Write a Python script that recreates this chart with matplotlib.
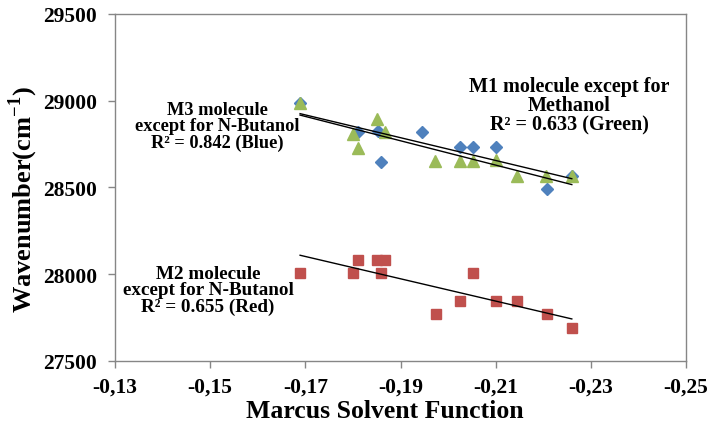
import numpy as np
import matplotlib
matplotlib.use("Agg")
import matplotlib.pyplot as plt

# values
m1_x = [-0.1689, -0.1850, -0.1801, -0.1811, -0.1867, -0.1972, -0.2024,
        -0.2052, -0.2100, -0.2144, -0.2205, -0.2260]
m1_y = [28985, 28895, 28810, 28728, 28818, 28654, 28654,
        28654, 28658, 28564, 28564, 28564]

m3_x = [-0.1689, -0.1811, -0.1853, -0.1860, -0.1945, -0.2024, -0.2052,
        -0.2100, -0.2207, -0.2260]
m3_y = [28985, 28818, 28824, 28649, 28818, 28732, 28732,
        28732, 28491, 28564]

m2_x = [-0.1689, -0.1801, -0.1811, -0.1850, -0.1868, -0.1860, -0.2052,
        -0.1975, -0.2024, -0.2100, -0.2144, -0.2207, -0.2260]
m2_y = [28010, 28010, 28084, 28084, 28084, 28010, 28010,
        27771, 27844, 27844, 27844, 27771, 27690]

x_ticks = [-0.13, -0.15, -0.17, -0.19, -0.21, -0.23, -0.25]
y_ticks = [27500, 28000, 28500, 29000, 29500]

blue = "#4F81BD"
green = "#9BBB59"
red = "#C0504D"
grey = "#868686"
FONT = "Liberation Serif"

plt.rcParams["mathtext.fontset"] = "custom"
plt.rcParams["mathtext.rm"] = "Liberation Serif"
plt.rcParams["mathtext.bf"] = "Liberation Serif:bold"

W, H = 712, 435


def fx(px):
    return px / W


def fy(py):
    return 1 - py / H


def trend(ax, xs, ys):
    xs = np.array(xs)
    k, b = np.polyfit(xs, ys, 1)
    xx = np.array([xs.max(), xs.min()])
    ax.plot(xx, k * xx + b, color="black", lw=1.0, zorder=4)


fig = plt.figure(figsize=(W / 100, H / 100), dpi=100)
ax = fig.add_axes([fx(115), fy(362), (686 - 115) / W, (362 - 15) / H])

ax.plot(m3_x, m3_y, ls="none", marker="D", ms=6.5, color=blue, zorder=3)
ax.plot(m1_x, m1_y, ls="none", marker="^", ms=8, color=green, zorder=3)
ax.plot(m2_x, m2_y, ls="none", marker="s", ms=7.5, color=red, zorder=3)

trend(ax, m1_x, m1_y)
trend(ax, m3_x, m3_y)
trend(ax, m2_x, m2_y)

ax.set_xlim(-0.13, -0.25)
ax.set_ylim(27500, 29500)
ax.set_xticks(x_ticks)
ax.set_xticklabels([f"{t:.2f}".replace(".", ",") for t in x_ticks])
ax.set_yticks(y_ticks)
ax.set_yticklabels([str(t) for t in y_ticks])

for s in ax.spines.values():
    s.set_color(grey)
    s.set_linewidth(1.0)
ax.tick_params(axis="both", direction="out", length=5, width=1.0, color=grey)
ax.tick_params(axis="x", pad=6)
ax.tick_params(axis="y", pad=8)
for lab in ax.get_xticklabels() + ax.get_yticklabels():
    lab.set_fontfamily(FONT)
    lab.set_fontweight("bold")
    lab.set_fontsize(15.5)

fig.text(fx(385), fy(412), "Marcus Solvent Function", ha="center", va="center",
         family=FONT, weight="bold", fontsize=18.5)
fig.text(fx(23), fy(200), "Wavenumber(cm$^{\\mathbf{-1}}$)", ha="center", va="center",
         rotation=90, family=FONT, weight="bold", fontsize=19)

fig.text(fx(569), fy(106), "M1 molecule except for\nMethanol\nR\u00b2 = 0.633 (Green)",
         ha="center", va="center", multialignment="center", linespacing=0.95,
         family=FONT, weight="bold", fontsize=14.5)
fig.text(fx(217), fy(127), "M3 molecule\nexcept for N-Butanol\nR\u00b2 = 0.842 (Blue)",
         ha="center", va="center", multialignment="center", linespacing=0.92,
         family=FONT, weight="bold", fontsize=13.2)
fig.text(fx(208), fy(291), "M2 molecule\nexcept for N-Butanol\nR\u00b2 = 0.655 (Red)",
         ha="center", va="center", multialignment="center", linespacing=0.95,
         family=FONT, weight="bold", fontsize=13.8)

fig.savefig("out.png", dpi=100)
